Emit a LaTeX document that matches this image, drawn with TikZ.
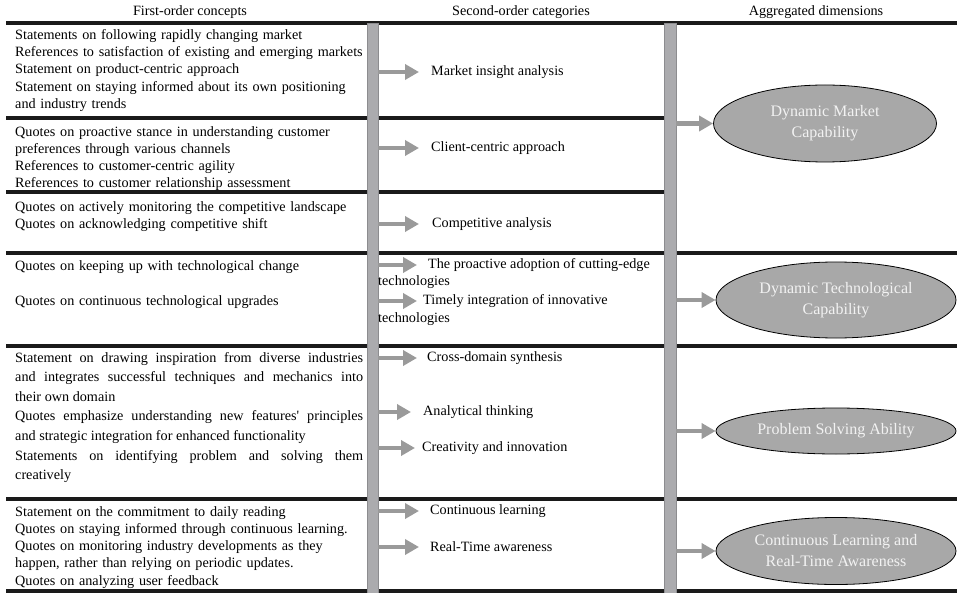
\documentclass[tikz,border=0pt]{standalone}
\usepackage{fontspec}
\setmainfont{Liberation Serif}
\usetikzlibrary{arrows.meta,shapes.geometric}

\definecolor{rulecol}{HTML}{1A1A1A}
\definecolor{barfill}{HTML}{ABABAE}
\definecolor{baredge}{HTML}{8C8C8F}
\definecolor{arrowcol}{HTML}{9A9A9A}
\definecolor{dimfill}{HTML}{A8A8A8}
\definecolor{dimtext}{HTML}{F2F2F2}

\tikzset{
  rule/.style={draw=rulecol, line width=4pt},
  bar/.style={rectangle, fill=barfill, draw=baredge, line width=0.8pt, inner sep=0pt},
  garrow/.style={draw=arrowcol, line width=4.5pt, -{Triangle[length=14pt,width=15pt]}},
  head/.style={font=\fontsize{14.2}{17}\selectfont, inner sep=0pt},
  first/.style={font=\fontsize{14.2}{17.3}\selectfont, inner sep=0pt, anchor=north west, text width=360pt, align=left},
  firstj/.style={font=\fontsize{14.2}{19.6}\selectfont, inner sep=0pt, anchor=north west, text width=348pt, align=justify},
  second/.style={font=\fontsize{14.2}{17.3}\selectfont, inner sep=0pt, anchor=west},
  dimension/.style={ellipse, fill=dimfill, draw=black, line width=0.8pt, inner sep=0pt,
    text=dimtext, align=center, font=\fontsize{16}{21}\selectfont}
}

\begin{document}
\begin{tikzpicture}[x=1pt,y=-1pt]
\useasboundingbox (0,0) rectangle (957,593);

% column headings
\node[head] (h1) at (190,12) {First-order concepts};
\node[head] (h2) at (521,12) {Second-order categories};
\node[head] (h3) at (816,12) {Aggregated dimensions};

% horizontal rules
\draw[rule] (6,23) -- (957,23);
\draw[rule] (6,118) -- (670,118);
\draw[rule] (6,192) -- (670,192);
\draw[rule] (6,253) -- (957,253);
\draw[rule] (6,346) -- (957,346);
\draw[rule] (6,499) -- (957,499);
\draw[rule] (6,591) -- (957,591);

% vertical bars
\node[bar, minimum width=11pt, minimum height=570pt, anchor=north] (bar1) at (372.5,23) {};
\node[bar, minimum width=12pt, minimum height=570pt, anchor=north] (bar2) at (670,23) {};

% first-order concepts
\node[first] (c1) at (15,29) {Statements on following rapidly changing market\\
References to satisfaction of existing and emerging markets\\
Statement on product-centric approach\\
Statement on staying informed about its own positioning\\
and industry trends};
\node[first] (c2) at (15,126) {Quotes on proactive stance in understanding customer\\
preferences through various channels\\
References to customer-centric agility\\
References to customer relationship assessment};
\node[first] (c3) at (15,201) {Quotes on actively monitoring the competitive landscape\\
Quotes on acknowledging competitive shift};
\node[first] (c4a) at (15,260) {Quotes on keeping up with technological change};
\node[first] (c4b) at (15,295) {Quotes on continuous technological upgrades};
\node[firstj] (c5) at (15,352) {Statement on drawing inspiration from diverse industries\linebreak
and integrates successful techniques and mechanics into\linebreak
their own domain\\
Quotes emphasize understanding new features\textquotesingle{} principles\linebreak
and strategic integration for enhanced functionality\\
Statements on identifying problem and solving them\linebreak
creatively};
\node[first] (c6) at (15,506) {Statement on the commitment to daily reading\\
Quotes on staying informed through continuous learning.\\
Quotes on monitoring industry developments as they\\
happen, rather than relying on periodic updates.\\
Quotes on analyzing user feedback};

% second-order categories
\node[second] (s1) at (431,72) {Market insight analysis};
\node[second] (s2) at (431,148) {Client-centric approach};
\node[second] (s3) at (432,224) {Competitive analysis};
\node[second] (s4a) at (428,265) {The proactive adoption of cutting-edge};
\node[second] (s4a2) at (378,282) {technologies};
\node[second] (s4b) at (423,301) {Timely integration of innovative};
\node[second] (s4b2) at (378,319) {technologies};
\node[second] (s5a) at (427,358) {Cross-domain synthesis};
\node[second] (s5b) at (423,412) {Analytical thinking};
\node[second] (s5c) at (422,448) {Creativity and innovation};
\node[second] (s6a) at (430,511) {Continuous learning};
\node[second] (s6b) at (430,547) {Real-Time awareness};

\foreach \s/\g in {s1/12, s2/12, s3/13, s4a/11, s4b/6, s5a/10, s5b/12, s5c/7, s6a/11, s6b/11}
  \draw[garrow] (bar1.east |- \s.west) -- ([xshift=-\g pt]\s.west);

% aggregated dimensions
\node[dimension, minimum width=223pt, minimum height=77pt] (d1) at (825,123.5) {Dynamic Market\\Capability};
\node[dimension, minimum width=240pt, minimum height=76pt] (d2) at (836,300) {Dynamic Technological\\Capability};
\node[dimension, minimum width=240pt, minimum height=46pt] (d3) at (836,431) {Problem Solving Ability};
\node[dimension, minimum width=240pt, minimum height=67pt] (d4) at (836,551) {Continuous Learning and\\Real-Time Awareness};

\foreach \d in {d1,d2,d3,d4}
  \draw[garrow] (bar2.east |- \d.west) -- (\d.west);
\end{tikzpicture}
\end{document}
